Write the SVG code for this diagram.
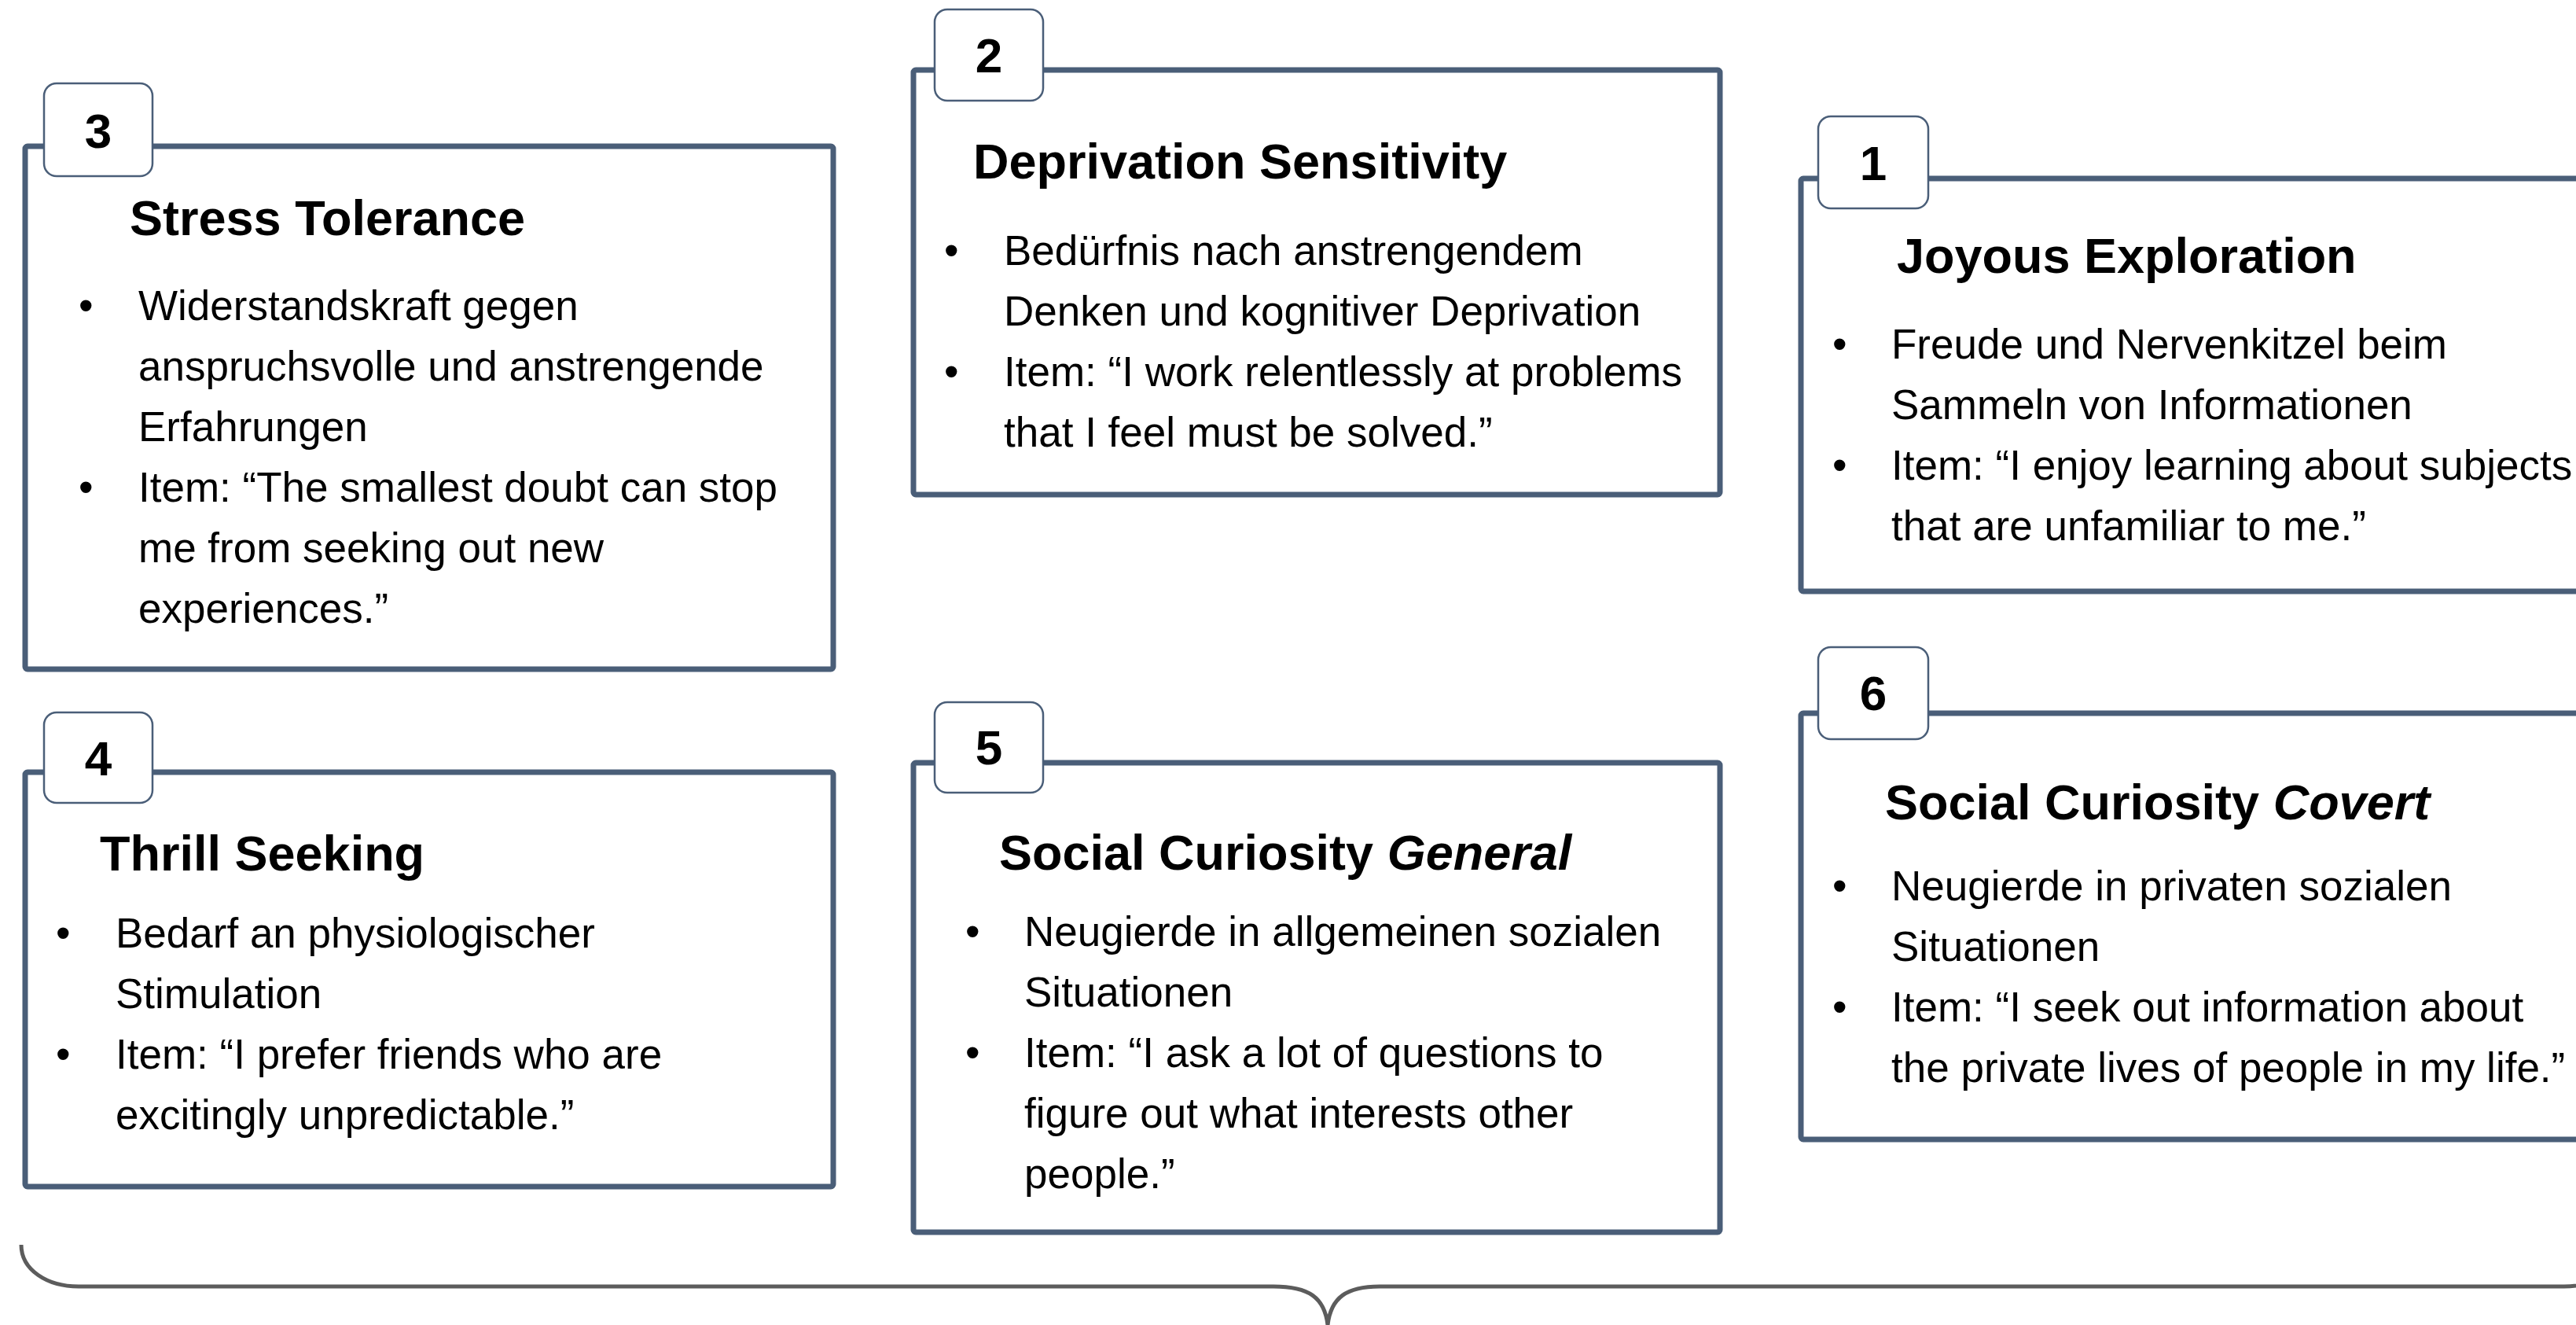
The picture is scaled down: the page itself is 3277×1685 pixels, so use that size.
<svg xmlns="http://www.w3.org/2000/svg" width="3277" height="1685" viewBox="0 0 3277 1685">
<style>
.box{fill:#ffffff;stroke:#4a5e78;stroke-width:7;stroke-linejoin:round}
.tab{fill:#ffffff;stroke:#4a5e78;stroke-width:2.5}
.num{font-family:"Liberation Sans",Arial,sans-serif;font-weight:bold;font-size:62px;fill:#000;text-anchor:middle}
.ttl{font-family:"Liberation Sans",Arial,sans-serif;font-weight:bold;font-size:63px;fill:#000}
.txt{font-family:"Liberation Sans",Arial,sans-serif;font-size:53px;fill:#000}
.brace{fill:none;stroke:#5c5c5c;stroke-width:5}
</style>
<rect width="3277" height="1685" fill="#ffffff"/>

<g id="node3">
<rect class="box" x="32" y="186" width="1028" height="665" rx="3"/>
<rect class="tab" x="56" y="106" width="138" height="118" rx="16"/>
<text class="num" x="125" y="188">3</text>
<text class="ttl" x="165" y="299">Stress Tolerance</text>
<text class="txt" x="100" y="407">•</text>
<text class="txt" x="176" y="407">Widerstandskraft gegen</text>
<text class="txt" x="176" y="484">anspruchsvolle und anstrengende</text>
<text class="txt" x="176" y="561">Erfahrungen</text>
<text class="txt" x="100" y="638">•</text>
<text class="txt" x="176" y="638">Item: “The smallest doubt can stop</text>
<text class="txt" x="176" y="715">me from seeking out new</text>
<text class="txt" x="176" y="792">experiences.”</text>
</g>

<g id="node2">
<rect class="box" x="1162" y="89" width="1026" height="540" rx="3"/>
<rect class="tab" x="1189" y="12" width="138" height="116" rx="16"/>
<text class="num" x="1258" y="92">2</text>
<text class="ttl" x="1238" y="227">Deprivation Sensitivity</text>
<text class="txt" x="1201" y="337">•</text>
<text class="txt" x="1277" y="337">Bedürfnis nach anstrengendem</text>
<text class="txt" x="1277" y="414">Denken und kognitiver Deprivation</text>
<text class="txt" x="1201" y="491">•</text>
<text class="txt" x="1277" y="491">Item: “I work relentlessly at problems</text>
<text class="txt" x="1277" y="568">that I feel must be solved.”</text>
</g>

<g id="node1">
<rect class="box" x="2291" y="227" width="1020" height="525" rx="3"/>
<rect class="tab" x="2313" y="148" width="140" height="117" rx="16"/>
<text class="num" x="2383" y="229">1</text>
<text class="ttl" x="2413" y="347">Joyous Exploration</text>
<text class="txt" x="2331" y="456">•</text>
<text class="txt" x="2406" y="456">Freude und Nervenkitzel beim</text>
<text class="txt" x="2406" y="533">Sammeln von Informationen</text>
<text class="txt" x="2331" y="610">•</text>
<text class="txt" x="2406" y="610">Item: “I enjoy learning about subjects</text>
<text class="txt" x="2406" y="687">that are unfamiliar to me.”</text>
</g>

<g id="node4">
<rect class="box" x="32" y="982" width="1028" height="527" rx="3"/>
<rect class="tab" x="56" y="906" width="138" height="115" rx="16"/>
<text class="num" x="125" y="986">4</text>
<text class="ttl" x="127" y="1107">Thrill Seeking</text>
<text class="txt" x="71" y="1205">•</text>
<text class="txt" x="147" y="1205">Bedarf an physiologischer</text>
<text class="txt" x="147" y="1282">Stimulation</text>
<text class="txt" x="71" y="1359">•</text>
<text class="txt" x="147" y="1359">Item: “I prefer friends who are</text>
<text class="txt" x="147" y="1436">excitingly unpredictable.”</text>
</g>

<g id="node5">
<rect class="box" x="1162" y="970" width="1026" height="597" rx="3"/>
<rect class="tab" x="1189" y="893" width="138" height="115" rx="16"/>
<text class="num" x="1258" y="972">5</text>
<text class="ttl" x="1271" y="1106">Social Curiosity <tspan font-style="italic">General</tspan></text>
<text class="txt" x="1228" y="1203">•</text>
<text class="txt" x="1303" y="1203">Neugierde in allgemeinen sozialen</text>
<text class="txt" x="1303" y="1280">Situationen</text>
<text class="txt" x="1228" y="1357">•</text>
<text class="txt" x="1303" y="1357">Item: “I ask a lot of questions to</text>
<text class="txt" x="1303" y="1434">figure out what interests other</text>
<text class="txt" x="1303" y="1511">people.”</text>
</g>

<g id="node6">
<rect class="box" x="2291" y="907" width="1020" height="542" rx="3"/>
<rect class="tab" x="2313" y="823" width="140" height="117" rx="16"/>
<text class="num" x="2383" y="903">6</text>
<text class="ttl" x="2398" y="1042">Social Curiosity <tspan font-style="italic">Covert</tspan></text>
<text class="txt" x="2331" y="1145">•</text>
<text class="txt" x="2406" y="1145">Neugierde in privaten sozialen</text>
<text class="txt" x="2406" y="1222">Situationen</text>
<text class="txt" x="2331" y="1299">•</text>
<text class="txt" x="2406" y="1299">Item: “I seek out information about</text>
<text class="txt" x="2406" y="1376">the private lives of people in my life.”</text>
</g>

<g id="connectors">
<path class="brace" d="M27,1583 C27,1615 60,1636 100,1636 L1620,1636 C1665,1636 1685,1650 1689,1685 C1693,1650 1713,1636 1755,1636 L3262,1636 C3302,1636 3335,1615 3335,1583"/>
</g>
</svg>
